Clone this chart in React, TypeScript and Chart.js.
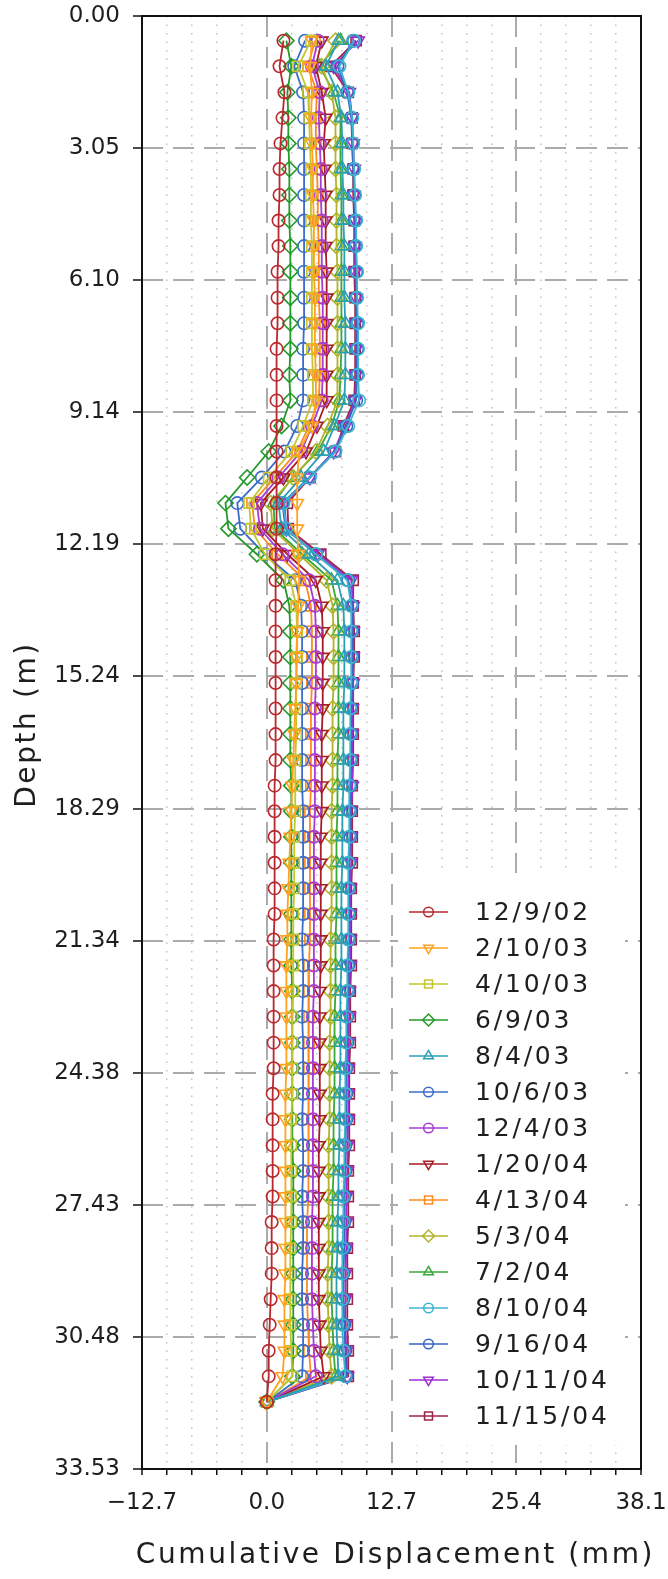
import React, { useEffect, useRef } from 'react';
import { Chart, registerables } from 'chart.js';
import { drawPoint } from 'chart.js/helpers';

Chart.register(...registerables);

// Depth of each reading (m)
const depths = [
  0.57, 1.16, 1.76, 2.35, 2.94, 3.53, 4.13, 4.72, 5.31, 5.90, 6.50, 7.09, 7.68, 8.28, 8.87,
  9.46, 10.05, 10.65, 11.24, 11.83, 12.42, 13.02,
  13.61, 14.20, 14.79, 15.39, 15.98, 16.57, 17.17, 17.76, 18.35, 18.94, 19.54, 20.13,
  20.72, 21.31, 21.91, 22.50, 23.09, 23.69, 24.28, 24.87, 25.46, 26.06, 26.65, 27.24, 27.83, 28.43,
  29.02, 29.61, 30.20, 30.80, 31.39, 31.98,
];

const seriesLabels = [
  '12/9/02', '2/10/03', '4/10/03', '6/9/03', '8/4/03', '10/6/03', '12/4/03', '1/20/04',
  '4/13/04', '5/3/04', '7/2/04', '8/10/04', '9/16/04', '10/11/04', '11/15/04',
];

// Cumulative displacement (mm) per survey
const disp_12_9_02 = [
  1.7, 1.3, 1.8, 1.6, 1.4, 1.3, 1.3, 1.2, 1.2, 1.1, 1.1, 1.1, 1.0, 1.0, 1.0,
  1.0, 1.0, 1.0, 1.0, 1.0, 0.9, 0.9,
  0.9, 0.9, 0.9, 0.9, 0.9, 0.9, 0.9, 0.8, 0.8, 0.8, 0.8, 0.8,
  0.8, 0.7, 0.7, 0.7, 0.7, 0.7, 0.7, 0.6, 0.6, 0.6, 0.6, 0.6, 0.5, 0.5,
  0.5, 0.4, 0.3, 0.2, 0.2, 0.0,
];
const disp_2_10_03 = [
  4.6, 4.4, 4.6, 4.5, 4.6, 4.7, 4.7, 4.8, 4.8, 4.8, 4.9, 4.9, 4.9, 5.0, 5.0,
  4.6, 3.3, 3.1, 3.1, 3.1, 3.2, 3.3,
  3.2, 3.1, 3.0, 3.0, 2.9, 2.8, 2.7, 2.6, 2.5, 2.4, 2.3, 2.2,
  2.1, 2.1, 2.0, 2.0, 2.0, 2.0, 2.0, 1.9, 1.9, 1.9, 1.9, 1.9, 1.9, 1.9,
  1.9, 1.8, 1.8, 1.8, 1.6, 0.0,
];
const disp_4_10_03 = [
  4.5, 3.2, 4.2, 4.3, 4.4, 4.5, 4.5, 4.5, 4.6, 4.6, 4.6, 4.6, 4.6, 4.7, 4.7,
  3.7, 2.5, 0.2, -1.8, -1.6, -0.2, 2.4,
  3.0, 3.1, 3.1, 3.0, 3.0, 3.0, 2.9, 2.9, 2.9, 2.8, 2.8, 2.8,
  2.7, 2.7, 2.7, 2.7, 2.6, 2.6, 2.6, 2.6, 2.5, 2.5, 2.5, 2.5, 2.5, 2.4,
  2.4, 2.4, 2.4, 2.5, 2.6, 0.0,
];
const disp_6_9_03 = [
  2.0, 2.5, 2.1, 2.2, 2.2, 2.3, 2.3, 2.3, 2.4, 2.4, 2.4, 2.4, 2.4, 2.3, 2.4,
  1.5, 0.2, -2.0, -4.2, -3.9, -1.0, 1.7,
  2.3, 2.4, 2.4, 2.4, 2.4, 2.4, 2.4, 2.5, 2.5, 2.5, 2.5, 2.5,
  2.5, 2.5, 2.5, 2.6, 2.6, 2.6, 2.6, 2.6, 2.6, 2.6, 2.7, 2.7, 2.7, 2.7,
  2.7, 2.7, 2.7, 2.7, 2.6, 0.0,
];
const disp_8_4_03 = [
  7.3, 6.0, 7.2, 7.6, 7.7, 7.7, 7.8, 7.8, 7.9, 7.9, 7.9, 8.0, 8.0, 8.0, 7.9,
  6.9, 5.8, 3.5, 1.2, 1.5, 4.3, 7.2,
  7.8, 7.9, 7.9, 7.9, 7.8, 7.8, 7.8, 7.8, 7.7, 7.7, 7.7, 7.6,
  7.6, 7.6, 7.6, 7.5, 7.5, 7.5, 7.5, 7.4, 7.4, 7.4, 7.3, 7.3, 7.2, 7.2,
  7.1, 7.1, 7.1, 7.2, 7.3, 0.0,
];
const disp_10_6_03 = [
  3.9, 2.8, 3.7, 3.8, 3.8, 3.8, 3.8, 3.8, 3.8, 3.8, 3.8, 3.8, 3.7, 3.7, 3.7,
  3.1, 1.8, -0.5, -3.0, -2.7, -0.2, 2.9,
  3.5, 3.6, 3.6, 3.6, 3.6, 3.6, 3.6, 3.6, 3.7, 3.7, 3.7, 3.7,
  3.7, 3.6, 3.7, 3.7, 3.6, 3.7, 3.7, 3.7, 3.6, 3.7, 3.7, 3.6, 3.7, 3.7,
  3.6, 3.6, 3.7, 3.7, 3.6, 0.0,
];
const disp_12_4_03 = [
  5.2, 4.6, 5.4, 5.3, 5.4, 5.5, 5.5, 5.6, 5.6, 5.6, 5.7, 5.7, 5.7, 5.7, 5.6,
  4.6, 3.5, 1.2, -1.0, -0.7, 1.6, 4.3,
  4.9, 5.0, 5.0, 5.0, 4.9, 4.9, 4.9, 4.9, 4.9, 4.8, 4.8, 4.8,
  4.8, 4.8, 4.8, 4.8, 4.7, 4.7, 4.7, 4.7, 4.7, 4.7, 4.7, 4.7, 4.6, 4.6,
  4.6, 4.6, 4.7, 4.8, 5.0, 0.0,
];
const disp_1_20_04 = [
  5.6, 5.0, 5.6, 6.0, 5.8, 5.9, 6.0, 6.0, 6.0, 6.1, 6.1, 6.1, 6.1, 6.1, 6.1,
  5.1, 4.0, 1.7, -0.6, -0.4, 2.1, 5.0,
  5.6, 5.7, 5.7, 5.7, 5.7, 5.6, 5.6, 5.6, 5.6, 5.5, 5.5, 5.5,
  5.5, 5.5, 5.5, 5.4, 5.4, 5.4, 5.4, 5.4, 5.4, 5.3, 5.3, 5.3, 5.3, 5.3,
  5.3, 5.3, 5.4, 5.5, 5.8, 0.0,
];
const disp_4_13_04 = [
  4.9, 4.2, 5.1, 5.0, 5.0, 5.1, 5.2, 5.2, 5.3, 5.3, 5.3, 5.4, 5.4, 5.4, 5.3,
  4.3, 3.1, 0.8, -1.5, -1.2, 1.1, 3.9,
  4.5, 4.6, 4.6, 4.6, 4.5, 4.5, 4.5, 4.5, 4.4, 4.4, 4.4, 4.4,
  4.4, 4.4, 4.3, 4.3, 4.3, 4.3, 4.3, 4.2, 4.2, 4.2, 4.2, 4.2, 4.1, 4.1,
  4.1, 4.1, 4.2, 4.3, 4.5, 0.0,
];
const disp_5_3_04 = [
  7.0, 5.6, 6.6, 7.0, 7.0, 7.0, 7.1, 7.1, 7.1, 7.2, 7.2, 7.2, 7.2, 7.2, 7.2,
  6.2, 5.0, 2.7, 0.4, 0.6, 3.3, 6.1,
  6.7, 6.8, 6.8, 6.8, 6.7, 6.7, 6.7, 6.7, 6.6, 6.6, 6.6, 6.6,
  6.6, 6.5, 6.5, 6.5, 6.5, 6.4, 6.4, 6.4, 6.4, 6.3, 6.3, 6.3, 6.3, 6.3,
  6.2, 6.2, 6.3, 6.4, 6.6, 0.0,
];
const disp_7_2_04 = [
  7.5, 5.4, 6.8, 7.5, 7.5, 7.5, 7.6, 7.6, 7.6, 7.6, 7.6, 7.6, 7.6, 7.5, 7.4,
  6.6, 5.2, 2.6, 0.7, 0.8, 3.6, 6.6,
  7.2, 7.3, 7.3, 7.3, 7.3, 7.3, 7.2, 7.2, 7.2, 7.1, 7.1, 7.1,
  7.1, 7.0, 7.0, 7.0, 6.9, 6.9, 6.9, 6.9, 6.8, 6.8, 6.8, 6.7, 6.7, 6.7,
  6.6, 6.6, 6.7, 6.8, 7.0, 0.0,
];
const disp_8_10_04 = [
  8.9, 7.4, 8.3, 8.7, 8.8, 8.9, 9.0, 9.1, 9.1, 9.2, 9.2, 9.3, 9.3, 9.3, 9.4,
  8.3, 7.0, 4.4, 1.7, 2.0, 5.0, 8.2,
  8.6, 8.6, 8.6, 8.6, 8.5, 8.5, 8.5, 8.4, 8.4, 8.4, 8.3, 8.3,
  8.3, 8.3, 8.2, 8.2, 8.1, 8.1, 8.0, 8.0, 8.0, 7.9, 7.9, 7.8, 7.8, 7.7,
  7.7, 7.7, 7.7, 7.8, 8.0, 0.0,
];
const disp_9_16_04 = [
  8.8, 7.2, 8.2, 8.6, 8.7, 8.8, 8.9, 9.0, 9.0, 9.1, 9.1, 9.2, 9.2, 9.2, 9.1,
  8.1, 6.9, 4.3, 1.6, 1.9, 5.0, 8.3,
  8.7, 8.7, 8.7, 8.7, 8.6, 8.6, 8.6, 8.5, 8.5, 8.5, 8.4, 8.4,
  8.4, 8.4, 8.3, 8.3, 8.2, 8.2, 8.1, 8.1, 8.1, 8.0, 8.0, 7.9, 7.9, 7.9,
  7.8, 7.8, 7.9, 8.0, 8.1, 0.0,
];
const disp_10_11_04 = [
  9.3, 6.8, 8.4, 8.7, 8.8, 8.9, 8.9, 9.0, 9.0, 9.0, 9.1, 9.1, 9.1, 9.1, 9.0,
  8.0, 6.8, 4.4, 1.8, 2.0, 5.2, 8.6,
  8.8, 8.8, 8.8, 8.8, 8.7, 8.7, 8.7, 8.7, 8.6, 8.6, 8.6, 8.5,
  8.5, 8.5, 8.5, 8.4, 8.4, 8.3, 8.3, 8.3, 8.3, 8.2, 8.2, 8.1, 8.1, 8.1,
  8.0, 8.0, 8.0, 8.1, 8.2, 0.0,
];
const disp_11_15_04 = [
  9.1, 6.5, 8.3, 8.7, 8.7, 8.8, 8.8, 8.9, 8.9, 8.9, 9.0, 9.0, 9.0, 9.0, 8.9,
  7.8, 7.0, 4.4, 2.1, 2.2, 5.5, 8.8,
  8.8, 8.9, 8.9, 8.8, 8.8, 8.8, 8.8, 8.7, 8.7, 8.7, 8.7, 8.6,
  8.6, 8.6, 8.6, 8.5, 8.5, 8.5, 8.4, 8.4, 8.4, 8.4, 8.3, 8.3, 8.3, 8.2,
  8.2, 8.2, 8.2, 8.3, 8.3, 0.0,
];

const seriesValues = [
  disp_12_9_02, disp_2_10_03, disp_4_10_03, disp_6_9_03, disp_8_4_03, disp_10_6_03,
  disp_12_4_03, disp_1_20_04, disp_4_13_04, disp_5_3_04, disp_7_2_04, disp_8_10_04,
  disp_9_16_04, disp_10_11_04, disp_11_15_04,
];

// Axis ticks
const xTickValues = [
  -12.7, -10.16, -7.62, -5.08, -2.54, 0, 2.54, 5.08, 7.62, 10.16, 12.7,
  15.24, 17.78, 20.32, 22.86, 25.4, 27.94, 30.48, 33.02, 35.56, 38.1,
];
const xMajorTicks = [-12.7, 0, 12.7, 25.4, 38.1];
const xTickLabels = ['\u221212.7', '0.0', '12.7', '25.4', '38.1'];
const yTickValues = [0, 3.048, 6.096, 9.144, 12.192, 15.24, 18.288, 21.336, 24.384, 27.432, 30.48, 33.528];
const yTickLabels = ['0.00', '3.05', '6.10', '9.14', '12.19', '15.24', '18.29', '21.34', '24.38', '27.43', '30.48', '33.53'];

// Styles
const seriesColors = [
  '#b8282e', '#ffa21f', '#c3c62e', '#239a2a', '#2a9fb6', '#3a6cc8', '#a43cd6', '#a81c28',
  '#ff8a1e', '#b3b32a', '#3aa83a', '#3cb6cf', '#3864c2', '#9c2fd6', '#9e2545',
];
const seriesMarkers = [
  'circle', 'down', 'rect', 'rectRot', 'triangle', 'circle', 'circle', 'down',
  'rect', 'rectRot', 'triangle', 'circle', 'circle', 'down', 'rect',
];

const FONT = '"DejaVu Sans", "Noto Sans", sans-serif';

const isMajorX = (v: number) => xMajorTicks.some((m) => Math.abs(m - v) < 1e-6);

function markerOpts(m: string, scale: number) {
  const style = m === 'down' ? 'triangle' : m;
  const rotation = m === 'down' ? 180 : 0;
  let r = 6.2;
  if (m === 'rect') r = 7.2;
  if (m === 'rectRot') r = 7.6;
  if (m === 'triangle' || m === 'down') r = 7.2;
  return { style, rotation, radius: r * scale };
}

const overlayPlugin = {
  id: 'overlay',
  afterDatasetsDraw(chart: any) {
    const { ctx, chartArea } = chart;
    // legend box (inside plot, lower right)
    const boxLeft = chartArea.right - 243;
    const boxRight = chartArea.right - 16;
    const boxTop = 873;
    const boxBottom = 1445;
    ctx.save();
    ctx.fillStyle = '#ffffff';
    ctx.fillRect(boxLeft, boxTop, boxRight - boxLeft, boxBottom - boxTop);
    const rowTop = 912;
    const rowStep = 36;
    seriesLabels.forEach((label, i) => {
      const y = rowTop + i * rowStep;
      const color = seriesColors[i];
      ctx.strokeStyle = color;
      ctx.lineWidth = 1.7;
      ctx.setLineDash([]);
      ctx.beginPath();
      ctx.moveTo(boxLeft + 11, y);
      ctx.lineTo(boxLeft + 50, y);
      ctx.stroke();
      const mo = markerOpts(seriesMarkers[i], 0.78);
      ctx.fillStyle = 'rgba(0,0,0,0)';
      ctx.strokeStyle = color;
      ctx.lineWidth = 1.5;
      drawPoint(ctx, { pointStyle: mo.style, rotation: mo.rotation, radius: mo.radius, borderWidth: 1.5 } as any, boxLeft + 30.5, y);
      ctx.fillStyle = '#1e1e1e';
      ctx.font = '25px ' + FONT;
      (ctx as any).letterSpacing = '2.8px';
      ctx.textAlign = 'left';
      ctx.textBaseline = 'middle';
      ctx.fillText(label, boxLeft + 77, y + 1);
      (ctx as any).letterSpacing = '0px';
    });
    ctx.restore();
  },
  afterDraw(chart: any) {
    const { ctx, chartArea } = chart;
    ctx.save();
    // frame
    ctx.strokeStyle = '#111111';
    ctx.lineWidth = 2;
    ctx.setLineDash([]);
    ctx.strokeRect(chartArea.left, chartArea.top, chartArea.right - chartArea.left, chartArea.bottom - chartArea.top);
    // axis titles
    ctx.fillStyle = '#1e1e1e';
    ctx.font = '28px ' + FONT;
    (ctx as any).letterSpacing = '2.6px';
    ctx.textAlign = 'center';
    ctx.textBaseline = 'middle';
    ctx.fillText('Cumulative Displacement (mm)', (chartArea.left + chartArea.right) / 2 + 4, chartArea.bottom + 87);
    ctx.translate(28, (chartArea.top + chartArea.bottom) / 2 - 18);
    ctx.rotate(-Math.PI / 2);
    ctx.fillText('Depth (m)', 0, 0);
    (ctx as any).letterSpacing = '0px';
    ctx.restore();
  },
};

export default function App() {
  const ref = useRef<HTMLCanvasElement>(null);

  useEffect(() => {
    if (!ref.current) return;
    const datasets = seriesLabels.map((label, i) => {
      const mo = markerOpts(seriesMarkers[i], 1);
      return {
        label,
        data: depths.map((d, k) => ({ x: seriesValues[i][k], y: d })),
        showLine: true,
        borderColor: seriesColors[i],
        backgroundColor: 'rgba(0,0,0,0)',
        borderWidth: 1.8,
        pointStyle: mo.style,
        rotation: mo.rotation,
        pointRadius: mo.radius,
        pointBorderWidth: 1.6,
        pointBorderColor: seriesColors[i],
        pointBackgroundColor: 'rgba(0,0,0,0)',
        tension: 0,
      };
    });

    const chart = new Chart(ref.current, {
      type: 'scatter',
      data: { datasets },
      options: {
        responsive: false,
        animation: false,
        devicePixelRatio: 1,
        events: [],
        layout: { padding: { top: 16, right: 27, bottom: 0, left: 0 } },
        plugins: { legend: { display: false }, tooltip: { enabled: false }, title: { display: false } },
        scales: {
          x: {
            type: 'linear',
            min: -12.7,
            max: 38.1,
            afterBuildTicks: (scale: any) => {
              scale.ticks = xTickValues.map((v) => ({ value: v }));
            },
            afterFit: (scale: any) => {
              scale.height = 110;
              scale.paddingLeft = 0;
              scale.paddingRight = 0;
            },
            ticks: {
              autoSkip: false,
              maxRotation: 0,
              padding: 14,
              color: '#1e1e1e',
              font: { family: FONT, size: 23 },
              callback: (value: any) => {
                const idx = xMajorTicks.findIndex((m) => Math.abs(m - Number(value)) < 1e-6);
                return idx >= 0 ? xTickLabels[idx] : '';
              },
            },
            grid: {
              drawTicks: true,
              tickLength: 6,
              tickWidth: 1.5,
              tickColor: '#111111',
              color: (c: any) => (c.tick && isMajorX(c.tick.value) ? '#ababab' : '#c2c2c2'),
              lineWidth: (c: any) => (c.tick && isMajorX(c.tick.value) ? 2 : 1.5),
            },
            border: {
              display: false,
              dash: (c: any) => (c.tick && isMajorX(c.tick.value) ? [21, 10] : [1.5, 7]),
            },
          },
          y: {
            type: 'linear',
            reverse: true,
            min: 0,
            max: 33.528,
            afterBuildTicks: (scale: any) => {
              scale.ticks = yTickValues.map((v) => ({ value: v }));
            },
            afterFit: (scale: any) => {
              scale.width = 142;
              scale.paddingTop = 0;
              scale.paddingBottom = 0;
            },
            ticks: {
              autoSkip: false,
              padding: 13,
              color: '#1e1e1e',
              font: { family: FONT, size: 23 },
              callback: (value: any, index: number) => yTickLabels[index] ?? '',
            },
            grid: {
              drawTicks: true,
              tickLength: 9,
              tickWidth: 1.5,
              tickColor: '#111111',
              color: '#ababab',
              lineWidth: 2,
            },
            border: { display: false, dash: [21, 10] },
          },
        },
      },
      plugins: [overlayPlugin],
    } as any);

    return () => chart.destroy();
  }, []);

  return (
    <div style={{ position: 'absolute', left: 0, top: 0, width: 668, height: 1579, background: '#ffffff' }}>
      <canvas ref={ref} width={668} height={1579} style={{ display: 'block', width: 668, height: 1579 }} />
    </div>
  );
}
